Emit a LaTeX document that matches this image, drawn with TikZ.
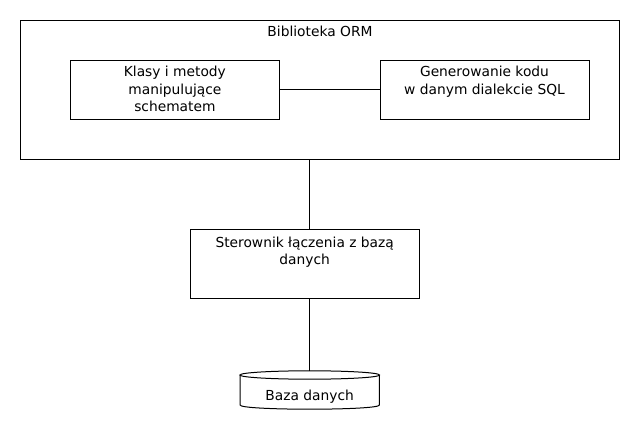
\documentclass[tikz,border=0pt]{standalone}
\usepackage{fontspec}
\setmainfont{DejaVu Sans}
\usetikzlibrary{positioning}

\begin{document}
\begin{tikzpicture}[
            x=1pt, y=-1pt,
            box/.style={draw, line width=1pt, inner sep=0pt},
            caption/.style={align=center, anchor=base, inner sep=0pt,
                font=\fontsize{13.8}{17.7}\selectfont},
            link/.style={line width=1pt},
        ]
            \useasboundingbox (0,0) rectangle (640,430);
            % the library frame
            \node[box, minimum width=598.6, minimum height=138.3] (orm) at (320,89.9) {};
            \node[caption] (ormtxt) at (320,36.7) {Biblioteka ORM};
            % inner boxes (base = last line)
            \node[box, minimum width=208.3, minimum height=58.3] (klasy) at (174.9,89.9) {};
            \node[caption] (klasytxt) at (174.9,112) {Klasy i metody\\manipulujące\\schematem};
            \node[box, minimum width=209, minimum height=58.3] (gen) at (484.5,89.9) {};
            \node[caption] (gentxt) at (484.5,94.2) {Generowanie kodu\\w danym dialekcie SQL};
            % driver
            \node[box, minimum width=229.3, minimum height=69] (drv) at (304.7,264.5) {};
            \node[caption] (drvtxt) at (304.7,265) {Sterownik łączenia z bazą\\danych};
            % database drum
            \coordinate (dbtop) at (309.7,370.8);
            \draw[link] (309.7,375) ellipse [x radius=69.7, y radius=4.2];
            \draw[link] (240,375) -- (240,405)
                .. controls (240,410.6) and (379.4,410.6) .. (379.4,405) -- (379.4,375);
            \node[caption] (db) at (309.7,400) {Baza danych};
            % connectors
            \draw[link] (klasy) -- (gen);
            \draw[link] (orm.south -| dbtop) -- (drv.north -| dbtop);
            \draw[link] (drv.south -| dbtop) -- (dbtop);
        \end{tikzpicture}
\end{document}
